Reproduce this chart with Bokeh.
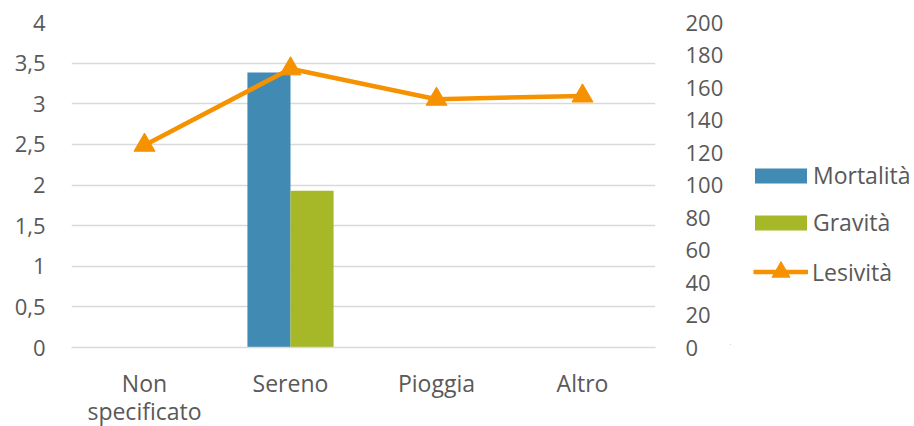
from bokeh.plotting import figure
from bokeh.layouts import row
from bokeh.models import FactorRange, Range1d, LinearAxis, Legend, LegendItem, ColumnDataSource, FixedTicker, CustomJSTickFormatter
from bokeh.transform import dodge
from bokeh.embed import file_html
from bokeh.resources import INLINE

categories = ["Non\nspecificato", "Sereno", "Pioggia", "Altro"]
series_names = ["Mortalità", "Gravità", "Lesività"]
mortalita = [0, 3.385, 0, 0]
gravita = [0, 1.93, 0, 0]
lesivita = [124.5, 171.5, 152.8, 154.8]
left_ticks = [0, 0.5, 1, 1.5, 2, 2.5, 3, 3.5, 4]
right_ticks = [0, 20, 40, 60, 80, 100, 120, 140, 160, 180, 200]

TEXT = "#595959"
GRID = "#d9d9d9"
FONT = "Open Sans"
BLUE = "#418AB3"
GREEN = "#A6B727"
ORANGE = "#F69200"

src = ColumnDataSource(dict(cat=categories, mort=mortalita, grav=gravita, les=lesivita,
                            idx=list(range(len(categories)))))

p = figure(x_range=FactorRange(factors=categories), y_range=Range1d(0, 4),
           frame_width=584, frame_height=325, output_backend="svg",
           toolbar_location=None, min_border_left=71, min_border_right=75,
           min_border_top=22, min_border_bottom=79)
p.outline_line_color = None
p.background_fill_color = "white"
p.border_fill_color = "white"

p.extra_y_ranges = {"right": Range1d(0, 200)}

p.vbar(x=dodge("cat", -0.1475, range=p.x_range), top="mort", width=0.295,
       source=src, fill_color=BLUE, line_color=None)
p.vbar(x=dodge("cat", 0.1475, range=p.x_range), top="grav", width=0.295,
       source=src, fill_color=GREEN, line_color=None)
p.line(x="cat", y="les", source=src, y_range_name="right",
       line_color=ORANGE, line_width=4.5)
p.scatter(x="cat", y="les", source=src, y_range_name="right",
          marker="triangle", size=21, fill_color=ORANGE, line_color=ORANGE)

# left axis
ya = p.yaxis[0]
ya.ticker = FixedTicker(ticks=left_ticks)
ya.formatter = CustomJSTickFormatter(code="return String(tick).replace('.', ',');")
ya.axis_line_color = None
ya.major_tick_line_color = None
ya.minor_tick_line_color = None
ya.major_label_standoff = 20
ya.major_label_text_font = FONT
ya.major_label_text_font_size = "22px"
ya.major_label_text_color = TEXT

ra = LinearAxis(y_range_name="right", ticker=FixedTicker(ticks=right_ticks))
ra.axis_line_color = None
ra.major_tick_line_color = None
ra.minor_tick_line_color = None
ra.major_label_standoff = 24
ra.major_label_text_font = FONT
ra.major_label_text_font_size = "22px"
ra.major_label_text_color = TEXT
p.add_layout(ra, "right")

xa = p.xaxis[0]
xa.axis_line_color = GRID
xa.axis_line_width = 1.5
xa.major_tick_line_color = None
xa.minor_tick_line_color = None
xa.major_label_standoff = 13
xa.major_label_text_font = FONT
xa.major_label_text_font_size = "23px"
xa.major_label_text_line_height = 0.88
xa.major_label_text_color = TEXT

p.xgrid.grid_line_color = None
p.ygrid.grid_line_color = GRID
p.ygrid.grid_line_width = 1.5

# legend panel (separate figure holding only the legends; its glyphs lie outside its view)
lg = figure(width=184, height=426, x_range=Range1d(1000, 1001), y_range=Range1d(1000, 1001),
            output_backend="svg", toolbar_location=None, min_border=0)
lg.axis.visible = False
lg.grid.visible = False
lg.outline_line_color = None
lg.border_fill_color = "white"
lg.background_fill_color = "white"
r1 = lg.vbar(x="idx", top="mort", width=0.1, source=src, fill_color=BLUE, line_color=None)
r2 = lg.vbar(x="idx", top="grav", width=0.1, source=src, fill_color=GREEN, line_color=None)
r3 = lg.line(x="idx", y="les", source=src, line_color=ORANGE, line_width=4.5)
r4 = lg.scatter(x="idx", y="les", source=src, marker="triangle", size=21,
                fill_color=ORANGE, line_color=ORANGE)


def style(leg):
    leg.border_line_color = None
    leg.background_fill_alpha = 0
    leg.padding = 0
    leg.margin = 0
    leg.label_text_font = FONT
    leg.label_text_font_size = "23px"
    leg.label_text_color = TEXT


legend_bars = Legend(items=[
    LegendItem(label=series_names[0], renderers=[r1]),
    LegendItem(label=series_names[1], renderers=[r2]),
], location=(18, 106))
style(legend_bars)
legend_bars.glyph_width = 65
legend_bars.glyph_height = 19
legend_bars.label_standoff = 0
legend_bars.spacing = 15
lg.add_layout(legend_bars, "center")

legend_line = Legend(items=[
    LegendItem(label=series_names[2], renderers=[r3, r4]),
], location=(23, 50))
style(legend_line)
legend_line.glyph_width = 55
legend_line.glyph_height = 45
legend_line.label_standoff = 4
lg.add_layout(legend_line, "center")

layout = row(p, lg, spacing=0)
open("out.html", "w").write(file_html(layout, INLINE))
